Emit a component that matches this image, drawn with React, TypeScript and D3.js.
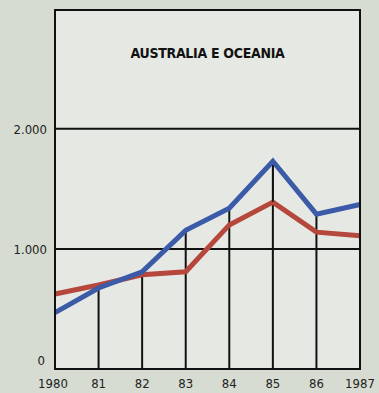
import React from "react";
import * as d3 from "d3";

const years = [1980, 1981, 1982, 1983, 1984, 1985, 1986, 1987];
const yearLabels = ["1980", "81", "82", "83", "84", "85", "86", "1987"];
const blueSeries = [470, 675, 810, 1155, 1340, 1730, 1290, 1370];
const redSeries = [625, 700, 785, 810, 1200, 1390, 1140, 1110];
const yTicks = [0, 1000, 2000];
const yTickLabels = ["0", "1.000", "2.000"];
const title = "AUSTRALIA E OCEANIA";

const W = 379;
const H = 393;
const m = { left: 55, right: 19, top: 10, bottom: 24 };
const labelFont = "'DejaVu Sans Condensed', 'Liberation Sans Narrow', sans-serif";

export default function App() {
  const x = d3.scaleLinear().domain([1980, 1987]).range([m.left, W - m.right]);
  const y = d3.scaleLinear().domain([0, 2990]).range([H - m.bottom, m.top]);

  const line = d3
    .line<number>()
    .x((_, i) => x(years[i]))
    .y((d) => y(d));

  return (
    <div style={{ position: "fixed", left: 0, top: 0 }}>
      <svg width={W} height={H} style={{ display: "block" }}>
        <rect x={0} y={0} width={W} height={H} fill="#d6dcd1" />
        <rect
          x={x(1980)}
          y={y.range()[1]}
          width={x(1987) - x(1980)}
          height={y(0) - y.range()[1]}
          fill="#e6e9e3"
        />
        {/* horizontal grid */}
        {yTicks.slice(1).map((t) => (
          <line key={t} x1={x(1980)} x2={x(1987)} y1={y(t)} y2={y(t)} stroke="#111" strokeWidth={2} />
        ))}
        {/* vertical drop lines up to the higher series */}
        {years.slice(1, -1).map((yr, i) => {
          const v = Math.max(blueSeries[i + 1], redSeries[i + 1]);
          return (
            <line key={yr} x1={x(yr)} x2={x(yr)} y1={y(0)} y2={y(v)} stroke="#111" strokeWidth={2} />
          );
        })}
        <path d={line(redSeries) || ""} fill="none" stroke="#b5473c" strokeWidth={5} strokeLinejoin="miter" />
        <path d={line(blueSeries) || ""} fill="none" stroke="#3b5ba8" strokeWidth={5} strokeLinejoin="miter" />
        {/* drop line at 85 shows through the peak */}
        <line x1={x(1985)} x2={x(1985)} y1={y(redSeries[5])} y2={y(blueSeries[5]) + 4} stroke="#111" strokeWidth={1.5} />
        {/* frame */}
        <rect
          x={x(1980)}
          y={y.range()[1]}
          width={x(1987) - x(1980)}
          height={y(0) - y.range()[1]}
          fill="none"
          stroke="#111"
          strokeWidth={2}
        />
        <text
          x={(x(1980) + x(1987)) / 2}
          y={58}
          textAnchor="middle"
          fontFamily="'Liberation Sans Narrow', 'DejaVu Sans Condensed', sans-serif"
          fontWeight="bold"
          fontSize={14}
          fill="#111"
          letterSpacing={-0.3}
        >
          {title}
        </text>
        {yTicks.map((t, i) => (
          <text
            key={t}
            x={t === 0 ? x(1980) - 10 : x(1980) - 8}
            y={t === 0 ? y(t) - 4 : y(t) + 5}
            textAnchor="end"
            fontFamily={labelFont}
            fontSize={13}
            fill="#222"
          >
            {yTickLabels[i]}
          </text>
        ))}
        {years.map((yr, i) => (
          <text
            key={yr}
            x={i === 0 ? x(yr) - 2 : x(yr)}
            y={H - 5}
            textAnchor="middle"
            fontFamily={labelFont}
            fontSize={13}
            fill="#222"
          >
            {yearLabels[i]}
          </text>
        ))}
      </svg>
    </div>
  );
}
